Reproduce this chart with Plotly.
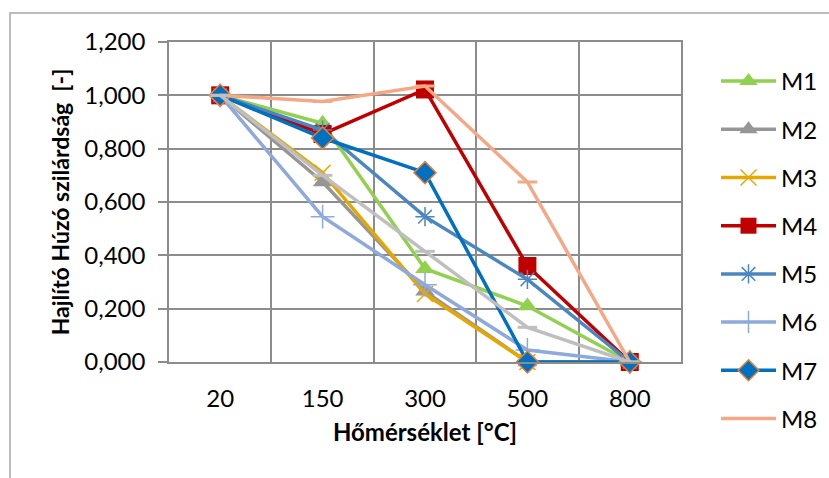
import plotly.graph_objects as go

categories = ["20", "150", "300", "500", "800"]
series_names = ["M1", "M2", "M3", "M4", "M5", "M6", "M7", "M8"]
m1 = [1.000, 0.895, 0.350, 0.210, 0.000]
m2 = [1.000, 0.675, 0.265, 0.000, 0.000]
m3 = [1.000, 0.710, 0.255, 0.000, 0.000]
m4 = [1.000, 0.855, 1.022, 0.360, 0.000]
m5 = [1.000, 0.870, 0.545, 0.310, 0.000]
m6 = [1.000, 0.545, 0.290, 0.045, 0.000]
m7 = [1.000, 0.840, 0.710, 0.000, 0.000]
m8 = [1.000, 0.977, 1.035, 0.675, 0.000]
extra = [1.000, 0.700, 0.415, 0.130, 0.000]

values = [m1, m2, m3, m4, m5, m6, m7, m8]
styles = [
    dict(color="#92D050", symbol="triangle-up", size=17, mline=None, mcolor="#92D050"),
    dict(color="#969696", symbol="triangle-up", size=17, mline=None, mcolor="#969696"),
    dict(color="#E6A800", symbol="x-thin", size=16, mline="#E6A800", mcolor="#E6A800"),
    dict(color="#C00000", symbol="square", size=18, mline=None, mcolor="#C00000"),
    dict(color="#4A86C0", symbol="asterisk-open", size=16, mline="#4A86C0", mcolor="#4A86C0"),
    dict(color="#8EA9DB", symbol="cross-thin-open", size=17, mline="#8EA9DB", mcolor="#8EA9DB"),
    dict(color="#0070C0", symbol="diamond", size=17, mline="#ED7D31", mcolor="#0070C0"),
    dict(color="#F4A886", symbol="line-ew", size=14, mline="#F4A886", mcolor="#F4A886"),
]

FONT = "Lato, Carlito, Calibri, sans-serif"

fig = go.Figure()
for i, (name, vals, st) in enumerate(zip(series_names, values, styles)):
    marker = dict(symbol=st["symbol"], size=st["size"], color=st["mcolor"])
    if st["mline"]:
        marker["line"] = dict(color=st["mline"], width=1.5 if st["symbol"] != "line-ew" else 3)
    else:
        marker["line"] = dict(width=0)
    fig.add_trace(go.Scatter(
        x=categories, y=vals, name=name, mode="lines+markers",
        line=dict(color=st["color"], width=3.5),
        marker=marker, cliponaxis=False,
        legendgroup=name,
    ))

fig.add_trace(go.Scatter(
    x=categories, y=extra, name="", mode="lines+markers",
    line=dict(color="#BFBFBF", width=3.5),
    marker=dict(symbol="line-ew", size=14, color="#BFBFBF", line=dict(color="#BFBFBF", width=3)),
    cliponaxis=False, showlegend=False,
))

L, R, T, B = 169, 681, 42, 362
W, H = 829, 478
pw, ph = R - L, B - T

def px(xp):
    return (xp - L) / pw

def py(yp):
    return (B - yp) / ph

fig.update_layout(
    width=W, height=H,
    margin=dict(l=L, r=W - R, t=T, b=H - B, pad=0, autoexpand=False),
    paper_bgcolor="white", plot_bgcolor="white",
    separators=",.",
    font=dict(family=FONT, size=24, color="#000000"),
    showlegend=True,
    legend=dict(
        x=px(716), y=py(59), xanchor="left", yanchor="top",
        font=dict(family=FONT, size=24, color="#000000"),
        traceorder="grouped", tracegroupgap=14,
        itemwidth=55, bgcolor="rgba(0,0,0,0)",
        maxheight=470,
    ),
    xaxis=dict(
        type="category", tickson="boundaries",
        showgrid=True, gridcolor="#8C8C8C", gridwidth=1.5,
        showline=True, linecolor="#8C8C8C", linewidth=1.5, mirror=True,
        ticks="", ticklabelstandoff=14,
        tickfont=dict(family=FONT, size=24, color="#000000"),
        title=dict(text="<b>Hőmérséklet [°C]</b>", font=dict(family=FONT, size=24, color="#000000"), standoff=14),
        range=[-0.5, 4.5], fixedrange=True,
    ),
    yaxis=dict(
        range=[0, 1.2], dtick=0.2, tick0=0, tickformat=".3f",
        showgrid=True, gridcolor="#8C8C8C", gridwidth=1.5,
        showline=True, linecolor="#8C8C8C", linewidth=1.5, mirror=True,
        ticks="outside", ticklen=9, tickcolor="#8C8C8C", tickwidth=1.5,
        ticklabelstandoff=8, zeroline=False,
        tickfont=dict(family=FONT, size=24, color="#000000"),
        title=dict(text="<b>Hajlító Húzó szilárdság  [-]</b>", font=dict(family=FONT, size=23, color="#000000"), standoff=8),
        fixedrange=True,
    ),
    shapes=[dict(
        type="rect", xref="paper", yref="paper",
        x0=px(10), x1=px(840), y0=py(490), y1=py(13),
        line=dict(color="#A6A6A6", width=1.5), fillcolor="rgba(0,0,0,0)", layer="below",
    )],
)

fig.write_html("out.html")
